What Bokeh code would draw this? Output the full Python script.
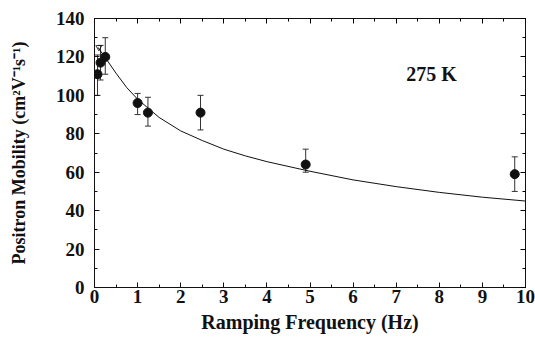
from bokeh.plotting import figure
from bokeh.models import (ColumnDataSource, Whisker, LinearAxis, SingleIntervalTicker,
                          Range1d, TeeHead, Label, CustomJSTickFormatter)
from bokeh.embed import file_html
from bokeh.resources import INLINE

# data
freq = [0.07, 0.14, 0.25, 1.0, 1.24, 2.46, 4.9, 9.75]
mobility = [111, 117, 120, 96, 91, 91, 64, 59]
err_up = [121, 126, 130, 101, 99, 100, 72, 68]
err_lo = [100, 108, 111, 90, 84, 82, 60, 50]

fit_x = [0.08, 0.3, 0.5, 0.75, 1.0, 1.5, 2.0, 2.5, 3.0, 3.5, 4.0, 5.0, 6.0, 7.0, 8.0, 9.0, 10.0]
fit_y = [125, 118, 111.5, 104, 98, 88.5, 81.5, 76.5, 72, 68.5, 65.5, 60.5, 56, 52.5, 49.5, 47, 45]

FONT = "Liberation Serif"
INK = "#111111"

p = figure(width=535, height=337, output_backend="svg", toolbar_location=None,
           x_range=Range1d(0, 10), y_range=Range1d(0, 140),
           min_border_left=94, min_border_right=10, min_border_top=18, min_border_bottom=50,
           x_axis_label="Ramping Frequency (Hz)",
           y_axis_label="Positron Mobility (cm\u00b2V\u207b\u00b9s\u207b\u00b9)")
p.grid.visible = False
p.outline_line_color = INK
p.outline_line_width = 1
p.background_fill_color = "white"
p.border_fill_color = "white"

p.xaxis.ticker = SingleIntervalTicker(interval=1, num_minor_ticks=2)
p.yaxis.ticker = SingleIntervalTicker(interval=20, num_minor_ticks=2)

for ax in (p.xaxis[0], p.yaxis[0]):
    ax.major_tick_in = 5
    ax.major_tick_out = 0
    ax.minor_tick_in = 3
    ax.minor_tick_out = 0
    ax.axis_line_color = INK
    ax.major_tick_line_color = INK
    ax.minor_tick_line_color = INK
    ax.major_label_text_font = FONT
    ax.major_label_text_font_style = "bold"
    ax.major_label_text_font_size = "19px"
    ax.major_label_text_color = INK
    ax.axis_label_text_font = FONT
    ax.axis_label_text_font_style = "bold"
    ax.axis_label_text_color = INK

p.xaxis.axis_label_text_font_size = "20px"
p.yaxis.axis_label_text_font_size = "18px"
p.xaxis.major_label_standoff = 2
p.xaxis.axis_label_standoff = 5
p.yaxis.major_label_standoff = 10
p.yaxis.axis_label_standoff = 24

blank = CustomJSTickFormatter(code="return ''")
top = LinearAxis(ticker=SingleIntervalTicker(interval=1, num_minor_ticks=2),
                 formatter=blank, major_tick_in=5, major_tick_out=0,
                 minor_tick_in=3, minor_tick_out=0, axis_line_color=INK,
                 major_label_standoff=0)
right = LinearAxis(ticker=SingleIntervalTicker(interval=20, num_minor_ticks=2),
                   formatter=blank, major_tick_in=5, major_tick_out=0,
                   minor_tick_in=3, minor_tick_out=0, axis_line_color=INK,
                   major_label_standoff=0)
p.add_layout(top, "above")
p.add_layout(right, "right")

# fit curve
p.line(fit_x, fit_y, line_color=INK, line_width=1)
p.scatter([fit_x[0] + 0.02], [fit_y[0]], marker="inverted_triangle", size=6,
          fill_color=None, line_color=INK, line_width=0.8)

src = ColumnDataSource(dict(x=freq, y=mobility, upper=err_up, lower=err_lo))
w = Whisker(source=src, base="x", upper="upper", lower="lower",
            line_color="#333333", line_width=1,
            upper_head=TeeHead(size=6, line_color="#333333", line_width=1),
            lower_head=TeeHead(size=6, line_color="#333333", line_width=1))
p.add_layout(w)
p.scatter("x", "y", source=src, size=9, fill_color=INK, line_color=INK)

p.add_layout(Label(x=7.82, y=105.5, text="275 K", text_align="center",
                   text_font=FONT, text_font_style="bold", text_font_size="20px",
                   text_color=INK))

open("out.html", "w").write(file_html(p, INLINE))
